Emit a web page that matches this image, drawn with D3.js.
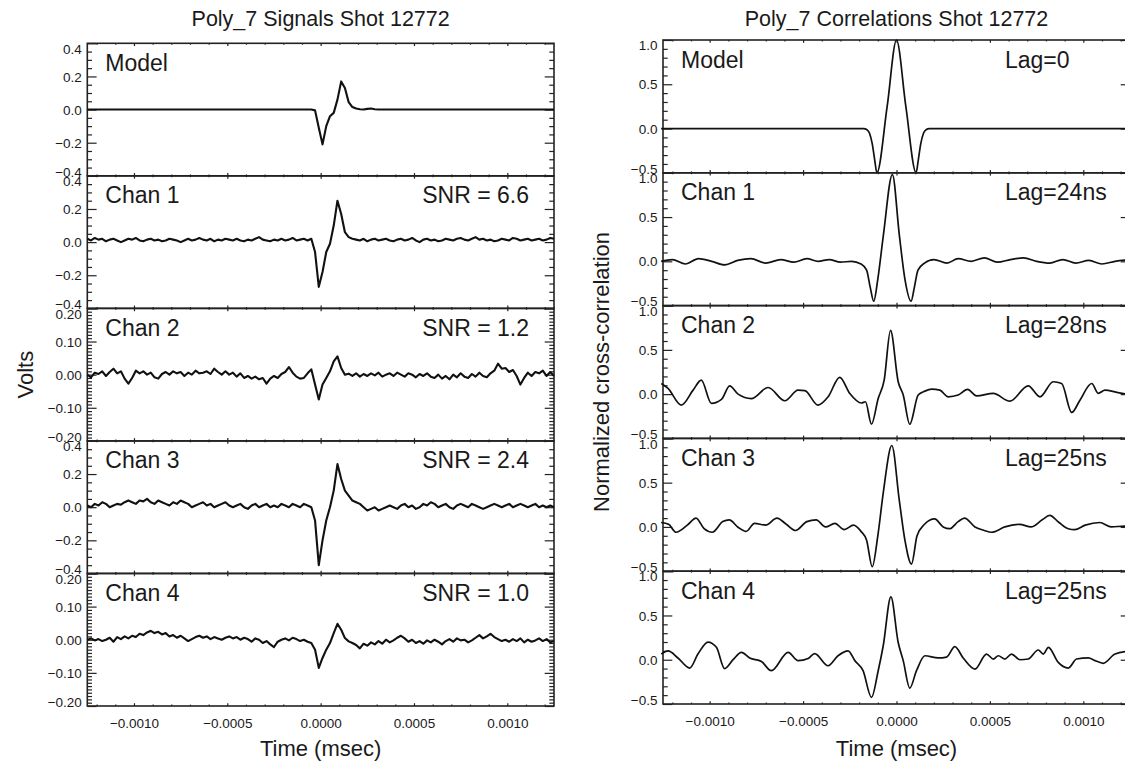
<!DOCTYPE html>
<html>
<head>
<meta charset="utf-8">
<script src="https://cdn.jsdelivr.net/npm/d3@7"></script>
<style>
  body { margin: 0; background: #fff; }
  svg { display: block; }
  text { font-family: "Liberation Sans", Arial, sans-serif; fill: #1a1a1a; }
</style>
</head>
<body>
<svg id="chart" width="1125" height="765"></svg>
<script>
// ---- data (times in ns, values in volts / normalized units) ----
const panelNames = ['Model', 'Chan 1', 'Chan 2', 'Chan 3', 'Chan 4'];
const snrLabels = ['', 'SNR = 6.6', 'SNR = 1.2', 'SNR = 2.4', 'SNR = 1.0'];
const lagLabels = ['Lag=0', 'Lag=24ns', 'Lag=28ns', 'Lag=25ns', 'Lag=25ns'];

const xTickValues = [-0.0010, -0.0005, 0.0000, 0.0005, 0.0010];
const sigTicksWide = [-0.4, -0.2, 0.0, 0.2, 0.4];
const sigTicksNarrow = [-0.20, -0.10, 0.00, 0.10, 0.20];
const corrTicks = [-0.5, 0.0, 0.5, 1.0];

// signals are sampled every 20 ns starting at -1250 ns
const sigStartNs = -1250;
const sigStepNs = 20;

const modelSignal = [
  0,0,0,0,0,0,0,0,0,0, 0,0,0,0,0,0,0,0,0,0, 0,0,0,0,0,0,0,0,0,0,
  0,0,0,0,0,0,0,0,0,0, 0,0,0,0,0,0,0,0,0,0, 0,0,0,0,0,0,0,0,0,0,
  0,-0.005,-0.11,-0.21,-0.1,-0.04,-0.02,0.06,0.17,0.13,0.045,0.015,0.006,
  0.002,0,0.004,0.006,0.002,0,0,0,0,0,
  0,0,0,0,0,0,0,0,0,0, 0,0,0,0,0,0,0,0,0,0, 0,0,0,0,0,0,0,0,0,0,
  0,0,0,0,0,0,0,0,0,0, 0,0,0
];

const chan1Signal = [
  0.02,0.01,0.025,0.015,0.02,0.005,0.015,0.02,0.01,0.0,
  0.01,0.02,0.015,0.025,0.01,0.005,0.015,0.02,0.01,0.015,
  0.005,0.01,0.02,0.015,0.01,0.0,0.01,0.02,0.01,0.015,
  0.025,0.015,0.01,0.02,0.005,0.015,0.01,0.02,0.015,0.01,
  0.02,0.01,0.005,0.015,0.01,0.02,0.03,0.015,0.01,0.005,
  0.015,0.01,0.02,0.01,0.015,0.025,0.01,0.015,0.02,0.01,0.02,
  -0.06,-0.27,-0.18,-0.06,-0.01,0.1,0.25,0.17,0.06,0.03,
  0.02,0.015,0.01,0.02,0.005,0.015,0.02,0.01,0.015,0.02,
  0.01,0.005,0.015,0.02,0.01,0.015,0.025,0.01,0.0,0.015,
  0.02,0.01,0.015,0.005,0.01,0.02,0.015,0.01,0.02,0.025,
  0.015,0.01,0.02,0.03,0.015,0.02,0.01,0.015,0.005,0.01,
  0.02,0.015,0.01,0.025,0.02,0.01,0.015,0.02,0.01,0.015,
  0.02,0.01,0.015,0.025,0.02
];

const chan2Signal = [
  0.0,-0.008,0.006,0.002,0.01,-0.004,0.008,0.018,0.004,0.01,-0.012,
  -0.027,-0.01,0.012,0.004,0.01,0.0,0.006,-0.008,-0.012,0.002,
  0.008,0.0,0.01,0.004,0.008,-0.004,0.006,0.0,0.012,0.004,
  0.006,0.01,0.002,0.018,0.008,0.0,0.01,0.0,0.006,-0.006,
  0.004,-0.01,-0.004,-0.012,-0.006,-0.014,-0.01,-0.027,-0.012,-0.004,
  -0.01,0.002,0.008,0.023,0.006,-0.006,-0.012,-0.01,0.004,0.016,
  -0.03,-0.075,-0.03,-0.01,0.01,0.04,0.055,0.02,0.0,0.003,
  -0.004,0.004,-0.006,0.002,-0.004,0.004,-0.002,0.006,-0.006,0.0,
  0.004,-0.004,0.006,0.0,-0.006,0.004,0.0,-0.008,0.002,-0.004,
  0.004,-0.006,-0.01,0.0,-0.012,-0.004,-0.014,0.0,-0.008,0.004,
  -0.006,-0.01,0.002,-0.006,0.006,-0.004,-0.008,0.004,0.012,0.033,
  0.018,0.02,0.008,0.014,-0.004,-0.03,-0.01,0.006,-0.004,0.008,
  0.004,0.012,-0.004,0.008,-0.004
];

const chan3Signal = [
  0.01,0.0,0.02,0.01,0.03,0.02,0.0,0.01,0.02,0.015,
  0.03,0.04,0.03,0.02,0.04,0.035,0.05,0.03,0.02,0.04,
  0.03,0.02,0.01,0.03,0.02,0.04,0.03,0.02,0.0,0.01,
  0.02,0.03,0.01,0.02,0.0,0.01,0.02,0.03,0.01,0.0,
  0.01,0.02,0.0,-0.01,0.01,0.02,0.0,0.01,0.02,0.0,
  0.01,0.0,0.02,0.01,0.0,0.02,0.01,0.0,0.02,0.01,0.0,
  -0.08,-0.35,-0.2,-0.08,0.0,0.1,0.26,0.17,0.1,0.07,
  0.04,0.03,0.02,0.0,-0.02,-0.01,0.0,-0.02,-0.01,0.0,
  0.01,0.0,-0.01,0.01,0.02,0.0,0.01,-0.01,0.0,0.02,
  0.01,0.03,0.02,0.0,0.01,0.02,0.0,-0.01,0.01,0.02,
  0.01,0.0,0.02,0.01,0.0,-0.01,0.0,0.01,0.02,0.01,
  0.0,0.01,0.02,0.0,0.01,0.02,0.01,0.0,0.01,0.02,
  0.0,0.01,0.0,0.01,0.0
];

const chan4Signal = [
  0.0,0.004,-0.002,0.002,-0.004,0.0,0.006,-0.006,0.008,0.002,
  0.01,0.004,0.012,0.008,0.018,0.014,0.022,0.027,0.02,0.024,
  0.016,0.02,0.01,0.014,0.006,0.012,0.004,-0.004,0.002,0.008,
  0.012,0.006,0.01,0.002,0.008,0.004,0.0,0.006,0.01,0.004,
  0.008,0.0,0.006,0.002,-0.006,0.004,0.0,-0.01,-0.004,-0.014,
  -0.022,-0.006,0.0,0.004,-0.002,0.006,0.002,-0.004,0.0,-0.006,-0.01,
  -0.03,-0.085,-0.055,-0.03,-0.01,0.02,0.048,0.03,0.005,-0.005,
  -0.01,-0.016,-0.026,-0.012,-0.018,-0.008,-0.014,-0.004,-0.012,0.0,
  -0.008,-0.002,0.006,0.012,0.004,-0.006,0.0,-0.01,-0.004,-0.012,
  -0.002,-0.008,0.0,-0.006,-0.014,-0.004,0.002,-0.006,0.004,-0.002,
  0.0,-0.008,-0.002,0.006,0.014,0.004,0.01,0.018,0.008,0.002,
  -0.004,0.0,-0.006,0.002,-0.004,0.004,-0.008,0.0,-0.006,-0.002,
  0.004,-0.004,0.002,-0.008,-0.004
];

// correlations: [lag ns, normalized value]
const modelCorr = [
  [-1260,0],[-175,0],[-160,-0.01],[-145,-0.05],[-130,-0.17],[-117,-0.35],[-105,-0.5],
  [-50,0.25],[0,1.0],[50,0.25],[105,-0.5],[117,-0.35],[130,-0.17],[145,-0.05],[160,-0.01],
  [175,0],[1260,0]
];

const chan1Corr = [
  [-1260,0.0],[-1200,0.02],[-1130,-0.03],[-1060,0.03],[-990,0.0],[-920,-0.04],[-850,0.01],
  [-780,0.03],[-700,-0.02],[-620,0.02],[-550,-0.01],[-480,0.03],[-420,0.0],[-360,0.02],
  [-300,-0.01],[-240,0.0],[-190,-0.03],[-160,-0.1],[-140,-0.3],[-122,-0.45],[-100,-0.2],
  [-70,0.3],[-22,0.98],[15,0.3],[45,-0.2],[78,-0.45],[95,-0.3],[115,-0.1],[150,-0.02],
  [200,0.02],[270,-0.02],[330,0.03],[400,0.0],[470,0.04],[540,-0.01],[610,0.02],[680,0.04],
  [750,0.0],[820,-0.02],[890,0.02],[960,-0.02],[1030,0.01],[1100,-0.03],[1170,0.0],[1260,0.02]
];

const chan2Corr = [
  [-1259,0.12],[-1223,0.064],[-1152,-0.124],[-1089,0.045],[-1045,0.158],[-991,-0.105],
  [-937,-0.06],[-893,0.094],[-848,0.0],[-777,-0.05],[-687,0.075],[-598,-0.075],[-527,0.045],
  [-491,0.04],[-420,-0.124],[-366,-0.03],[-304,0.19],[-250,0.008],[-188,-0.1],[-166,-0.086],
  [-134,-0.34],[-98,-0.05],[-66,0.158],[-32,0.72],[9,0.14],[36,-0.01],[71,-0.34],[116,-0.01],
  [152,0.034],[188,0.056],[232,0.045],[277,-0.03],[330,-0.01],[380,0.053],[429,-0.02],
  [518,0.008],[607,-0.08],[705,0.094],[768,-0.03],[839,0.14],[884,0.12],[938,-0.207],
  [982,-0.068],[1045,0.12],[1080,0.008],[1116,0.045],[1179,0.02],[1260,-0.01]
];

const chan3Corr = [
  [-1260,0.05],[-1220,0.03],[-1180,-0.06],[-1120,0.02],[-1073,0.1],[-1030,-0.02],[-986,-0.06],
  [-930,0.06],[-895,0.08],[-850,0.0],[-805,-0.05],[-760,0.04],[-700,0.02],[-640,0.1],
  [-590,0.03],[-540,-0.04],[-480,0.06],[-430,0.08],[-380,0.0],[-330,0.04],[-280,-0.03],
  [-230,0.02],[-190,-0.05],[-160,-0.15],[-130,-0.45],[-100,-0.1],[-70,0.4],[-25,0.92],
  [15,0.3],[45,-0.15],[80,-0.42],[110,-0.1],[150,0.03],[204,0.09],[250,0.0],[284,-0.02],
  [330,0.06],[364,0.1],[420,0.0],[470,-0.04],[509,-0.06],[580,0.0],[659,0.03],[720,0.0],
  [780,0.08],[820,0.13],[870,0.05],[920,-0.02],[954,-0.03],[1010,0.02],[1088,0.05],
  [1150,0.0],[1221,0.01],[1260,0.0]
];

const chan4Corr = [
  [-1259,0.064],[-1223,0.1],[-1170,0.02],[-1107,-0.094],[-1063,0.064],[-1009,0.2],
  [-964,0.14],[-920,-0.1],[-875,0.0],[-830,0.083],[-786,0.02],[-723,-0.02],[-670,-0.124],
  [-580,0.083],[-527,-0.01],[-473,0.015],[-438,0.07],[-366,-0.068],[-313,0.045],[-259,0.1],
  [-223,-0.01],[-179,-0.124],[-134,-0.425],[-98,-0.124],[-71,0.158],[-30,0.71],[9,0.195],
  [36,-0.01],[71,-0.32],[107,-0.124],[152,0.045],[223,0.02],[268,0.03],[312,0.147],[357,0.02],
  [420,-0.105],[482,0.064],[518,0.008],[545,0.045],[580,0.008],[616,0.064],[661,0.0],
  [705,0.008],[759,0.11],[786,0.064],[813,0.14],[866,-0.03],[920,-0.094],[964,0.008],
  [1027,0.02],[1063,-0.01],[1107,-0.04],[1170,0.064],[1260,0.1]
];

const signalSeries = [modelSignal, chan1Signal, chan2Signal, chan3Signal, chan4Signal];
const corrSeries = [modelCorr, chan1Corr, chan2Corr, chan3Corr, chan4Corr];

// ---- layout ----
const svg = d3.select('#chart');
const nPanels = 5;
const majorY = 9.3, minorY = 4.7, majorX = 2.8, minorX = 1.4;

const columns = [
  {
    left: 87.3, right: 554, top: 43.3, bottom: 706,
    title: 'Poly_7 Signals Shot 12772', ytitle: 'Volts', ytitleX: 33,
    ranges: [[-0.4, 0.4], [-0.4, 0.4], [-0.2, 0.2], [-0.4, 0.4], [-0.2, 0.2]],
    ticks: [sigTicksWide, sigTicksWide, sigTicksNarrow, sigTicksWide, sigTicksNarrow],
    minorStep: [0.05, 0.05, 0.01, 0.05, 0.01],
    fmt: [d3.format('.1f'), d3.format('.1f'), d3.format('.2f'), d3.format('.1f'), d3.format('.2f')],
    notes: snrLabels, noteAnchor: 'end', noteX: 529,
    series: signalSeries.map(vals => vals.map((v, i) => [(sigStartNs + i * sigStepNs) * 1e-6, v])),
    curve: d3.curveLinear, lineWidth: 2.1
  },
  {
    left: 663, right: 1130, top: 40, bottom: 704,
    title: 'Poly_7 Correlations Shot 12772', ytitle: 'Normalized cross-correlation', ytitleX: 609,
    ranges: d3.range(nPanels).map(() => [-0.5, 1.0]),
    ticks: d3.range(nPanels).map(() => corrTicks),
    minorStep: d3.range(nPanels).map(() => 0.1),
    fmt: d3.range(nPanels).map(() => d3.format('.1f')),
    notes: lagLabels, noteAnchor: 'start', noteX: 1005,
    series: corrSeries.map(pts => pts.map(p => [p[0] * 1e-6, p[1]])),
    curve: d3.curveMonotoneX, lineWidth: 1.7
  }
];

function styleAxis(sel) {
  sel.select('.domain').remove();
  sel.selectAll('.tick line').attr('stroke', '#222').attr('stroke-width', 1.2);
  sel.attr('font-family', '"DejaVu Sans", sans-serif').attr('font-size', 13.5);
  sel.selectAll('text').attr('fill', '#1a1a1a');
}

columns.forEach(col => {
  const x = d3.scaleLinear().domain([-0.00125, 0.00125]).range([col.left, col.right]);
  const ph = (col.bottom - col.top) / nPanels;
  const xMinor = d3.range(-12, 13).map(d => d / 10000).filter(d => Math.abs(d * 10000) % 5 !== 0);

  // titles
  svg.append('text')
    .attr('x', (col.left + col.right) / 2).attr('y', 26)
    .attr('text-anchor', 'middle').style('font-size', '21.5px')
    .text(col.title);
  svg.append('text')
    .attr('x', (col.left + col.right) / 2).attr('y', 756)
    .attr('text-anchor', 'middle').style('font-size', '22px')
    .text('Time (msec)');
  svg.append('text')
    .attr('transform', `translate(${col.ytitleX},${(col.top + col.bottom) / 2}) rotate(-90)`)
    .attr('text-anchor', 'middle').style('font-size', '22px')
    .text(col.ytitle);

  d3.range(nPanels).forEach(i => {
    const top = col.top + ph * i, bottom = top + ph;
    const [lo, hi] = col.ranges[i];
    const y = d3.scaleLinear().domain([lo, hi]).range([bottom, top]);
    const g = svg.append('g').attr('class', 'panel');
    const step = col.minorStep[i];
    const yMinor = d3.range(Math.round((hi - lo) / step) + 1)
      .map(k => lo + k * step)
      .filter(v => !col.ticks[i].some(t => Math.abs(t - v) < step / 4));

    // minor ticks
    g.append('g').attr('transform', `translate(${col.left},0)`)
      .call(d3.axisLeft(y).tickValues(yMinor).tickSize(-minorY).tickFormat(''))
      .call(styleAxis);
    g.append('g').attr('transform', `translate(${col.right},0)`)
      .call(d3.axisRight(y).tickValues(yMinor).tickSize(-minorY).tickFormat(''))
      .call(styleAxis);
    g.append('g').attr('transform', `translate(0,${top})`)
      .call(d3.axisTop(x).tickValues(xMinor).tickSize(-minorX).tickFormat(''))
      .call(styleAxis);
    g.append('g').attr('transform', `translate(0,${bottom})`)
      .call(d3.axisBottom(x).tickValues(xMinor).tickSize(-minorX).tickFormat(''))
      .call(styleAxis);

    // major ticks
    g.append('g').attr('transform', `translate(${col.left},0)`)
      .call(d3.axisLeft(y).tickValues(col.ticks[i]).tickSize(-majorY).tickPadding(5.5).tickFormat(col.fmt[i]))
      .call(styleAxis)
      .call(a => a.selectAll('text')
        .attr('dy', d => Math.abs(d - hi) < 1e-9 ? '0.72em' : Math.abs(d - lo) < 1e-9 ? '0.02em' : '0.34em'));
    g.append('g').attr('transform', `translate(${col.right},0)`)
      .call(d3.axisRight(y).tickValues(col.ticks[i]).tickSize(-majorY).tickFormat(''))
      .call(styleAxis);
    g.append('g').attr('transform', `translate(0,${top})`)
      .call(d3.axisTop(x).tickValues(xTickValues).tickSize(-majorX).tickFormat(''))
      .call(styleAxis);
    const last = i === nPanels - 1;
    g.append('g').attr('transform', `translate(0,${bottom})`)
      .call(d3.axisBottom(x).tickValues(xTickValues).tickSize(-majorX).tickPadding(12)
        .tickFormat(last ? d3.format('.4f') : ''))
      .call(styleAxis);

    // frame
    g.append('rect')
      .attr('x', col.left).attr('y', top)
      .attr('width', col.right - col.left).attr('height', ph)
      .attr('fill', 'none').attr('stroke', '#222').attr('stroke-width', 1.6);

    // curve
    const line = d3.line().curve(col.curve).x(d => x(d[0])).y(d => y(d[1]));
    g.append('path')
      .datum(col.series[i])
      .attr('d', line)
      .attr('fill', 'none')
      .attr('stroke', '#111')
      .attr('stroke-width', col.lineWidth)
      .attr('stroke-linejoin', 'round');

    // panel labels
    g.append('text')
      .attr('x', col.left + 18).attr('y', top + 27.5)
      .style('font-size', '23px')
      .text(panelNames[i]);
    if (col.notes[i]) {
      g.append('text')
        .attr('x', col.noteX).attr('y', top + 27.5)
        .attr('text-anchor', col.noteAnchor)
        .style('font-size', '23px')
        .text(col.notes[i]);
    }
  });
});
</script>
</body>
</html>
